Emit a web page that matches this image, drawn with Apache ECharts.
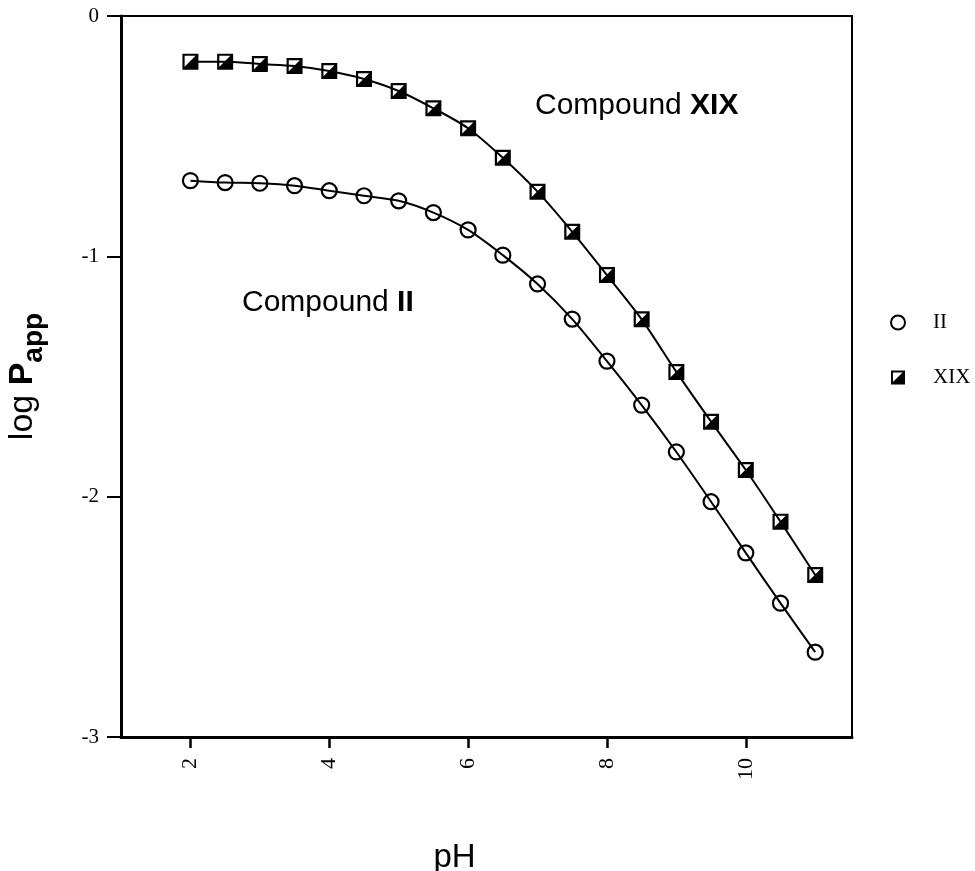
<!DOCTYPE html>
<html>
<head>
<meta charset="utf-8">
<script src="https://cdn.jsdelivr.net/npm/echarts@6/dist/echarts.min.js"></script>
<style>
  html, body { margin: 0; padding: 0; background: #fff; }
  #chart { width: 975px; height: 871px; }
</style>
</head>
<body>
<div id="chart"></div>
<script>
const phValues = [2, 2.5, 3, 3.5, 4, 4.5, 5, 5.5, 6, 6.5, 7, 7.5, 8, 8.5, 9, 9.5, 10, 10.5, 11];
const logPappII = [-0.685, -0.693, -0.696, -0.706, -0.727, -0.748, -0.769, -0.818, -0.890, -0.995,
  -1.115, -1.261, -1.436, -1.619, -1.814, -2.021, -2.234, -2.443, -2.647];
const logPappXIX = [-0.190, -0.190, -0.200, -0.208, -0.229, -0.262, -0.312, -0.384, -0.467, -0.590,
  -0.731, -0.898, -1.078, -1.262, -1.481, -1.688, -1.889, -2.104, -2.326];
const xTicks = [2, 4, 6, 8, 10];

// square with white upper-left half, black lower-right half
const HALF_SQUARE = 'path://M0,0 L16,0 L16,16 L0,16 Z M2.2,2.2 L2.2,13.2 L13.2,2.2 Z';

const SERIF = '"Liberation Serif", "DejaVu Serif", serif';
const SANS = '"Liberation Sans", Arial, sans-serif';

const chart = echarts.init(document.getElementById('chart'), null, { renderer: 'canvas' });

const pairs = (ys) => phValues.map((x, i) => [x, ys[i]]);

chart.setOption({
  animation: false,
  backgroundColor: '#fff',
  grid: {
    left: 121,
    right: 123,
    top: 16,
    bottom: 134,
    outerBoundsMode: 'none',
    containLabel: false,
    show: true,
    borderColor: '#000',
    borderWidth: 2,
  },
  legend: {
    orient: 'vertical',
    left: 885,
    top: 307,
    itemGap: 34,
    itemWidth: 14,
    itemHeight: 14,
    textStyle: { fontFamily: SERIF, fontSize: 21, color: '#000', padding: [0, 0, 0, 23] },
    data: [
      { name: 'II', icon: 'circle', itemStyle: { color: '#fff', borderColor: '#000', borderWidth: 2 } },
      { name: 'XIX', icon: HALF_SQUARE, itemStyle: { color: '#000', borderWidth: 0 } },
    ],
  },
  xAxis: {
    type: 'value',
    min: 1,
    max: 11.53,
    name: 'pH',
    nameLocation: 'middle',
    nameGap: 104,
    nameTextStyle: { fontFamily: SANS, fontSize: 33, color: '#000', padding: [0, 64, 0, 0] },
    splitLine: { show: false },
    axisLine: { show: true, onZero: false, lineStyle: { color: '#000', width: 3 } },
    axisTick: { show: true, length: 11, customValues: xTicks, lineStyle: { color: '#000', width: 2.5 } },
    axisLabel: {
      customValues: xTicks,
      rotate: 90,
      margin: 21,
      fontFamily: SERIF,
      fontSize: 22,
      color: '#000',
    },
  },
  yAxis: {
    type: 'value',
    min: -3,
    max: 0,
    interval: 1,
    name: '{a|log }{b|P}{c|app}',
    nameLocation: 'middle',
    nameGap: 73,
    nameRotate: 90,
    nameTextStyle: {
      rich: {
        a: { fontFamily: SANS, fontSize: 34, color: '#000', lineHeight: 50, verticalAlign: 'middle' },
        b: { fontFamily: SANS, fontSize: 34, fontWeight: 'bold', color: '#000', lineHeight: 50, verticalAlign: 'middle' },
        c: { fontFamily: SANS, fontSize: 28, fontWeight: 'bold', color: '#000', lineHeight: 50, verticalAlign: 'bottom', padding: [15, 0, 0, 0] },
      },
    },
    splitLine: { show: false },
    axisLine: { show: true, onZero: false, lineStyle: { color: '#000', width: 3 } },
    axisTick: { show: true, length: 14, lineStyle: { color: '#000', width: 2 } },
    axisLabel: { margin: 22, fontFamily: SERIF, fontSize: 21, color: '#000' },
  },
  graphic: [
    {
      type: 'text',
      left: 535,
      top: 91,
      style: {
        text: '{n|Compound }{b|XIX}',
        rich: {
          n: { fontFamily: SANS, fontSize: 30, fill: '#000' },
          b: { fontFamily: SANS, fontSize: 30, fontWeight: 'bold', fill: '#000' },
        },
      },
    },
    {
      type: 'text',
      left: 242,
      top: 288,
      style: {
        text: '{n|Compound }{b|II}',
        rich: {
          n: { fontFamily: SANS, fontSize: 30, fill: '#000' },
          b: { fontFamily: SANS, fontSize: 30, fontWeight: 'bold', fill: '#000' },
        },
      },
    },
  ],
  series: [
    {
      name: 'II',
      type: 'line',
      data: pairs(logPappII),
      smooth: 0.3,
      symbol: 'circle',
      symbolSize: 15,
      itemStyle: { color: 'rgba(0,0,0,0)', borderColor: '#000', borderWidth: 2.2 },
      lineStyle: { color: '#000', width: 2 },
      z: 3,
    },
    {
      name: 'XIX',
      type: 'line',
      data: pairs(logPappXIX),
      smooth: 0.3,
      symbol: HALF_SQUARE,
      symbolSize: 16,
      itemStyle: { color: '#000', borderWidth: 0 },
      lineStyle: { color: '#000', width: 2 },
      z: 3,
    },
  ],
});
</script>
</body>
</html>
